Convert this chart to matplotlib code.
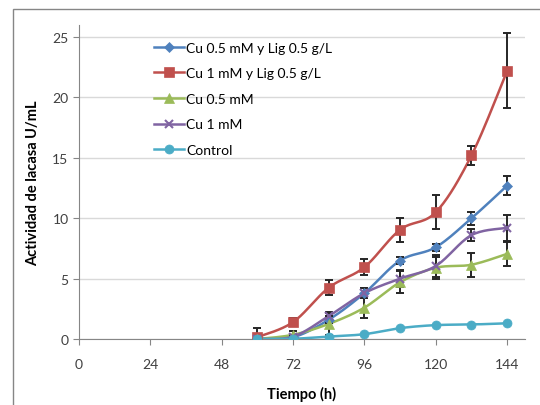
import matplotlib

matplotlib.use("Agg")
import matplotlib.pyplot as plt
import numpy as np
from matplotlib.patches import Rectangle

plt.rcParams["font.family"] = ["Lato", "DejaVu Sans"]

hours = [60, 72, 84, 96, 108, 120, 132, 144]

cu05_lig = [0.05, 0.15, 1.6, 3.8, 6.5, 7.6, 10.0, 12.7]
cu05_lig_err = [0.0, 0.1, 0.3, 0.4, 0.3, 0.3, 0.55, 0.8]

cu1_lig = [0.15, 1.4, 4.25, 5.95, 9.05, 10.5, 15.2, 22.2]
cu1_lig_err = [0.8, 0.3, 0.6, 0.65, 1.0, 1.4, 0.8, 3.1]

cu05 = [0.0, 0.35, 1.25, 2.6, 4.7, 5.9, 6.15, 7.05]
cu05_err = [0.0, 0.3, 0.9, 0.85, 0.9, 0.9, 1.0, 1.0]

cu1 = [0.0, 0.2, 1.9, 3.8, 5.0, 6.05, 8.6, 9.2]
cu1_err = [0.0, 0.1, 0.3, 0.4, 0.7, 0.9, 0.5, 1.05]

control = [0.0, 0.02, 0.2, 0.4, 0.9, 1.15, 1.2, 1.3]

SERIES = [
    ("Cu 0.5 mM y Lig 0.5 g/L", cu05_lig, cu05_lig_err, "#4F81BD", "D", 5.5),
    ("Cu 1 mM y Lig 0.5 g/L", cu1_lig, cu1_lig_err, "#C0504D", "s", 6.5),
    ("Cu 0.5 mM", cu05, cu05_err, "#9BBB59", "^", 6.5),
    ("Cu 1 mM", cu1, cu1_err, "#8064A2", "x", 6),
    ("Control", control, None, "#4BACC6", "o", 6.5),
]


def smooth(x, y, steps=20):
    # Excel-style smoothed line: cubic Bezier through points, tension 1/6
    p = np.column_stack([x, y]).astype(float)
    ext = np.vstack([p[0], p, p[-1]])
    t = np.linspace(0, 1, steps)[:, None]
    out = []
    for i in range(len(p) - 1):
        p0, p3 = ext[i + 1], ext[i + 2]
        c1 = p0 + (ext[i + 2] - ext[i]) / 6
        c2 = p3 - (ext[i + 3] - ext[i + 1]) / 6
        seg = ((1 - t) ** 3) * p0 + 3 * ((1 - t) ** 2) * t * c1 + 3 * (1 - t) * t ** 2 * c2 + t ** 3 * p3
        out.append(seg if i == 0 else seg[1:])
    seg = np.vstack(out)
    return seg[:, 0], seg[:, 1]


fig = plt.figure(figsize=(5.4, 4.06), dpi=100)
W, H = 540, 406
ax = fig.add_axes([79 / W, 66 / H, (525 - 79) / W, (340 - 26) / H])

fig.patches.append(
    Rectangle((13 / W, -0.1), 1.2, (406 - 10) / H + 0.1, transform=fig.transFigure,
              fill=False, edgecolor="#868686", linewidth=1.0)
)

handles = []
for label, values, err, color, marker, ms in SERIES:
    sx, sy = smooth(hours, values)
    ax.plot(sx, sy, color=color, linewidth=1.8, zorder=3)
    if err is not None:
        ax.errorbar(hours, values, yerr=err, fmt="none", ecolor="#262626",
                    elinewidth=1.4, capsize=3, capthick=1.4, zorder=4)
    mew = 1.5 if marker == "x" else 0.5
    ax.plot(hours, values, color=color, marker=marker, markersize=ms,
            markeredgecolor=color, markeredgewidth=mew, linewidth=0, zorder=5)
    handles.append(
        plt.Line2D([], [], color=color, marker=marker, markersize=ms,
                   markeredgewidth=mew, linewidth=1.8, label=label)
    )

ax.set_xlim(0, 150)
ax.set_ylim(0, 26)
ax.set_xticks(range(0, 145, 24))
ax.set_yticks(range(0, 26, 5))
ax.yaxis.grid(True, color="#D9D9D9", linewidth=1.0)
ax.set_axisbelow(True)
for side in ("top", "right"):
    ax.spines[side].set_visible(False)
for side in ("left", "bottom"):
    ax.spines[side].set_color("#868686")
ax.tick_params(axis="both", colors="#868686", labelcolor="#404040", labelsize=10,
               length=4, width=0.8)
ax.tick_params(axis="x", pad=10)

ax.set_xlabel("Tiempo (h)", fontsize=10.5, fontweight="bold", labelpad=11)
ax.set_ylabel("Actividad de lacasa U/mL", fontsize=10.5, fontweight="bold", labelpad=9)

ax.legend(handles=handles, loc="upper left", bbox_to_anchor=(0.155, 0.965),
          frameon=False, fontsize=10, handlelength=2.2, handletextpad=0.15,
          labelspacing=0.98, borderaxespad=0)

fig.savefig("out.png", dpi=100)
